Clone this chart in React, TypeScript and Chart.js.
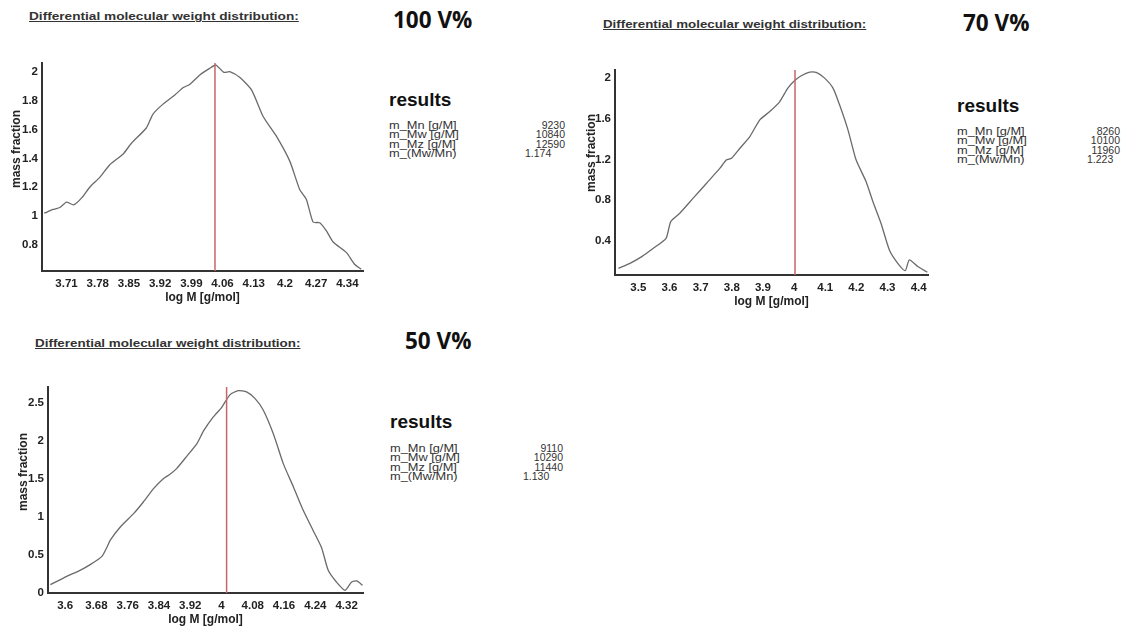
import React, { useEffect, useRef } from "react";
import { Chart, registerables } from "chart.js";

Chart.register(...registerables);

const ARIAL = '"Liberation Sans", Arial, sans-serif';
const HEAD = '"Open Sans", "Noto Sans", sans-serif';

// ---------- 100 V% ----------
const LOGM_100 = [3.66, 3.68, 3.695, 3.71, 3.726, 3.744, 3.762, 3.785, 3.807, 3.837, 3.856, 3.889, 3.904, 3.927, 3.953, 3.972, 3.987, 4.009, 4.031, 4.045, 4.063, 4.076, 4.099, 4.125, 4.151, 4.181, 4.211, 4.233, 4.248, 4.263, 4.278, 4.293, 4.308, 4.338, 4.356, 4.371];
const FRAC_100 = [1.02, 1.046, 1.06, 1.097, 1.078, 1.126, 1.2, 1.27, 1.356, 1.43, 1.506, 1.61, 1.706, 1.777, 1.839, 1.89, 1.913, 1.977, 2.023, 2.046, 1.995, 2.0, 1.959, 1.874, 1.69, 1.552, 1.379, 1.184, 1.115, 0.959, 0.954, 0.897, 0.821, 0.747, 0.667, 0.632];
const XTICKS_100 = [3.71, 3.78, 3.85, 3.92, 3.99, 4.06, 4.13, 4.2, 4.27, 4.34];
const YTICKS_100 = [0.8, 1, 1.2, 1.4, 1.6, 1.8, 2];
const MARKER_100 = 4.043;
const RESULTS_100 = ["9230", "10840", "12590", "1.174"];

// ---------- 70 V% ----------
const LOGM_70 = [3.436, 3.473, 3.511, 3.548, 3.589, 3.604, 3.633, 3.676, 3.719, 3.762, 3.783, 3.799, 3.826, 3.858, 3.89, 3.922, 3.954, 3.98, 4.002, 4.023, 4.05, 4.071, 4.098, 4.125, 4.146, 4.173, 4.199, 4.231, 4.253, 4.279, 4.306, 4.333, 4.357, 4.37, 4.397, 4.428];
const FRAC_70 = [0.131, 0.18, 0.246, 0.328, 0.426, 0.59, 0.672, 0.82, 0.967, 1.115, 1.197, 1.213, 1.311, 1.426, 1.59, 1.672, 1.77, 1.902, 1.977, 2.023, 2.059, 2.056, 2.0, 1.902, 1.738, 1.492, 1.197, 0.984, 0.787, 0.574, 0.311, 0.18, 0.108, 0.213, 0.148, 0.092];
const XTICKS_70 = [3.5, 3.6, 3.7, 3.8, 3.9, 4, 4.1, 4.2, 4.3, 4.4];
const YTICKS_70 = [0.4, 0.8, 1.2, 1.6, 2];
const MARKER_70 = 4.003;
const RESULTS_70 = ["8260", "10100", "11960", "1.223"];

// ---------- 50 V% ----------
const LOGM_50 = [3.562, 3.604, 3.638, 3.664, 3.694, 3.707, 3.715, 3.741, 3.775, 3.8, 3.826, 3.851, 3.868, 3.885, 3.911, 3.937, 3.954, 3.979, 4.0, 4.022, 4.043, 4.064, 4.086, 4.107, 4.133, 4.158, 4.184, 4.209, 4.235, 4.256, 4.273, 4.294, 4.316, 4.333, 4.346, 4.361];
const FRAC_50 = [0.11, 0.219, 0.298, 0.373, 0.482, 0.605, 0.693, 0.868, 1.044, 1.197, 1.373, 1.504, 1.561, 1.636, 1.798, 1.965, 2.132, 2.316, 2.439, 2.61, 2.662, 2.645, 2.557, 2.404, 2.088, 1.702, 1.395, 1.088, 0.816, 0.596, 0.298, 0.145, 0.035, 0.145, 0.158, 0.101];
const XTICKS_50 = [3.6, 3.68, 3.76, 3.84, 3.92, 4, 4.08, 4.16, 4.24, 4.32];
const YTICKS_50 = [0, 0.5, 1, 1.5, 2, 2.5];
const MARKER_50 = 4.013;
const RESULTS_50 = ["9110", "10290", "11440", "1.130"];

const RESULT_LABELS = ["m_Mn [g/M]", "m_Mw [g/M]", "m_Mz [g/M]", "m_(Mw/Mn)"];
const TITLE = "Differential molecular weight distribution:";
const X_TITLE = "log M [g/mol]";
const Y_TITLE = "mass fraction";

const fmt = (v: number) => String(parseFloat(Number(v).toFixed(2)));

type Box = { l: number; t: number; r: number; b: number };

const PAD_T = 13;
const PAD_R = 8;
const X_H = 37;

function DistChart(props: {
  box: Box; yAxisW: number; xs: number[]; ys: number[]; xTicks: number[]; yTicks: number[];
  xMin: number; xMax: number; yMin: number; yMax: number; marker: number;
}) {
  const ref = useRef<HTMLCanvasElement | null>(null);
  const { box, yAxisW } = props;
  const left = box.l - yAxisW;
  const top = box.t - PAD_T;
  const width = Math.round(box.r + PAD_R - left);
  const height = Math.round(box.b + X_H - top);

  useEffect(() => {
    const p = props;
    const tickFont = { family: ARIAL, size: 11.5, weight: "bold" as const };
    const titleFont = { family: ARIAL, size: 12, weight: "bold" as const };
    const chart = new Chart(ref.current as HTMLCanvasElement, {
      type: "scatter",
      data: {
        datasets: [
          {
            data: p.xs.map((x, i) => ({ x, y: p.ys[i] })),
            showLine: true,
            borderColor: "#6a6a6a",
            borderWidth: 1.3,
            pointRadius: 0,
            tension: 0.2,
            order: 2,
          },
          {
            data: [{ x: p.marker, y: p.yMin }, { x: p.marker, y: p.yMax }],
            showLine: true,
            borderColor: "#c86666",
            borderWidth: 1.5,
            pointRadius: 0,
            order: 1,
          },
        ],
      },
      options: {
        responsive: false,
        animation: false,
        events: [],
        layout: { padding: { top: PAD_T, right: PAD_R, left: 0, bottom: 0 } },
        plugins: { legend: { display: false }, tooltip: { enabled: false } },
        scales: {
          x: {
            type: "linear",
            min: p.xMin,
            max: p.xMax,
            afterBuildTicks: (s: any) => { s.ticks = p.xTicks.map((v) => ({ value: v })); },
            afterFit: (s: any) => { s.height = X_H; },
            grid: { display: true, drawOnChartArea: false, drawTicks: false },
            border: { display: true, color: "#333", width: 2 },
            ticks: { padding: 6, color: "#222", font: tickFont, maxRotation: 0, autoSkip: false, callback: (v: any) => fmt(v) },
            title: { display: true, text: X_TITLE, color: "#222", font: titleFont, padding: { top: 0, bottom: 3 } },
          },
          y: {
            type: "linear",
            min: p.yMin,
            max: p.yMax,
            afterBuildTicks: (s: any) => { s.ticks = p.yTicks.map((v) => ({ value: v })); },
            afterFit: (s: any) => { s.width = p.yAxisW; },
            grid: { display: true, drawOnChartArea: false, drawTicks: false },
            border: { display: true, color: "#333", width: 2 },
            ticks: { padding: 4, color: "#222", font: tickFont, autoSkip: false, callback: (v: any) => fmt(v) },
            title: { display: false },
          },
        },
      },
    } as any);
    return () => chart.destroy();
  }, []);

  return (
    <canvas
      ref={ref}
      width={width}
      height={height}
      style={{ position: "absolute", left, top, width, height }}
    />
  );
}

function Text(props: { x: number; y: number; size: number; text: string; bold?: boolean; family?: string; underline?: boolean; color?: string; scaleX?: number; align?: "left" | "right" }) {
  const style: React.CSSProperties = {
    position: "absolute",
    top: props.y,
    fontFamily: props.family || ARIAL,
    fontSize: props.size,
    fontWeight: props.bold ? 700 : 400,
    lineHeight: 1,
    whiteSpace: "nowrap",
    color: props.color || "#222",
    textDecoration: props.underline ? "underline" : "none",
    transform: props.scaleX ? `scaleX(${props.scaleX})` : undefined,
    transformOrigin: "left top",
  };
  if (props.align === "right") style.right = 1134 - props.x;
  else style.left = props.x;
  return <div style={style}>{props.text}</div>;
}

function YTitle(props: { cx: number; cy: number }) {
  return (
    <div
      style={{
        position: "absolute",
        left: props.cx,
        top: props.cy,
        fontFamily: ARIAL,
        fontSize: 12,
        fontWeight: 700,
        lineHeight: 1,
        whiteSpace: "nowrap",
        color: "#222",
        transform: "translate(-50%, -50%) rotate(-90deg)",
      }}
    >
      {Y_TITLE}
    </div>
  );
}

function Results(props: { x: number; headBase: number; rowBase: number; valRight: number; ratioLeft: number; values: string[] }) {
  const rowSize = 10.5;
  const step = 9.3;
  return (
    <>
      <Text x={props.x} y={props.headBase - 0.8465 * 19} size={19} bold text="results" color="#111" />
      {RESULT_LABELS.map((lab, i) => (
        <Text key={"l" + i} x={props.x} y={props.rowBase + i * step - 0.8465 * rowSize} size={rowSize} text={lab} color="#333" scaleX={1.22} />
      ))}
      {props.values.slice(0, 3).map((v, i) => (
        <Text key={"v" + i} x={props.valRight} align="right" y={props.rowBase + i * step - 0.8465 * rowSize} size={rowSize} text={v} color="#333" />
      ))}
      <Text x={props.ratioLeft} y={props.rowBase + 3 * step - 0.8465 * rowSize} size={rowSize} text={props.values[3]} color="#333" />
    </>
  );
}

export default function App() {
  return (
    <div style={{ position: "absolute", left: 0, top: 0, width: 1134, height: 630, background: "#fff", overflow: "hidden" }}>
      {/* 100 V% */}
      <Text x={29} y={11.3} size={11} bold underline text={TITLE} color="#333" scaleX={1.24} />
      <Text x={393} y={9} size={22.5} bold family={HEAD} text="100 V%" color="#111" />
      <DistChart box={{ l: 42, t: 63, r: 363, b: 271 }} yAxisW={37} xs={LOGM_100} ys={FRAC_100}
        xTicks={XTICKS_100} yTicks={YTICKS_100} xMin={3.655} xMax={4.375} yMin={0.62} yMax={2.06} marker={MARKER_100} />
      <YTitle cx={16} cy={149} />
      <Results x={389} headBase={106} rowBase={129} valRight={565} ratioLeft={525} values={RESULTS_100} />

      {/* 70 V% */}
      <Text x={603} y={18.6} size={11} bold underline text={TITLE} color="#333" scaleX={1.21} />
      <Text x={963} y={12} size={22.5} bold family={HEAD} text="70 V%" color="#111" />
      <DistChart box={{ l: 615, t: 70, r: 928, b: 275 }} yAxisW={35} xs={LOGM_70} ys={FRAC_70}
        xTicks={XTICKS_70} yTicks={YTICKS_70} xMin={3.425} xMax={4.43} yMin={0.065} yMax={2.08} marker={MARKER_70} />
      <YTitle cx={591} cy={153} />
      <Results x={957} headBase={111.7} rowBase={135} valRight={1120} ratioLeft={1087} values={RESULTS_70} />

      {/* 50 V% */}
      <Text x={35} y={337.6} size={11} bold underline text={TITLE} color="#333" scaleX={1.22} />
      <Text x={405} y={329.8} size={22.5} bold family={HEAD} text="50 V%" color="#111" />
      <DistChart box={{ l: 48, t: 387, r: 363, b: 593 }} yAxisW={35} xs={LOGM_50} ys={FRAC_50}
        xTicks={XTICKS_50} yTicks={YTICKS_50} xMin={3.556} xMax={4.362} yMin={0} yMax={2.71} marker={MARKER_50} />
      <YTitle cx={23} cy={472} />
      <Results x={390} headBase={428} rowBase={452} valRight={563} ratioLeft={523} values={RESULTS_50} />
    </div>
  );
}
